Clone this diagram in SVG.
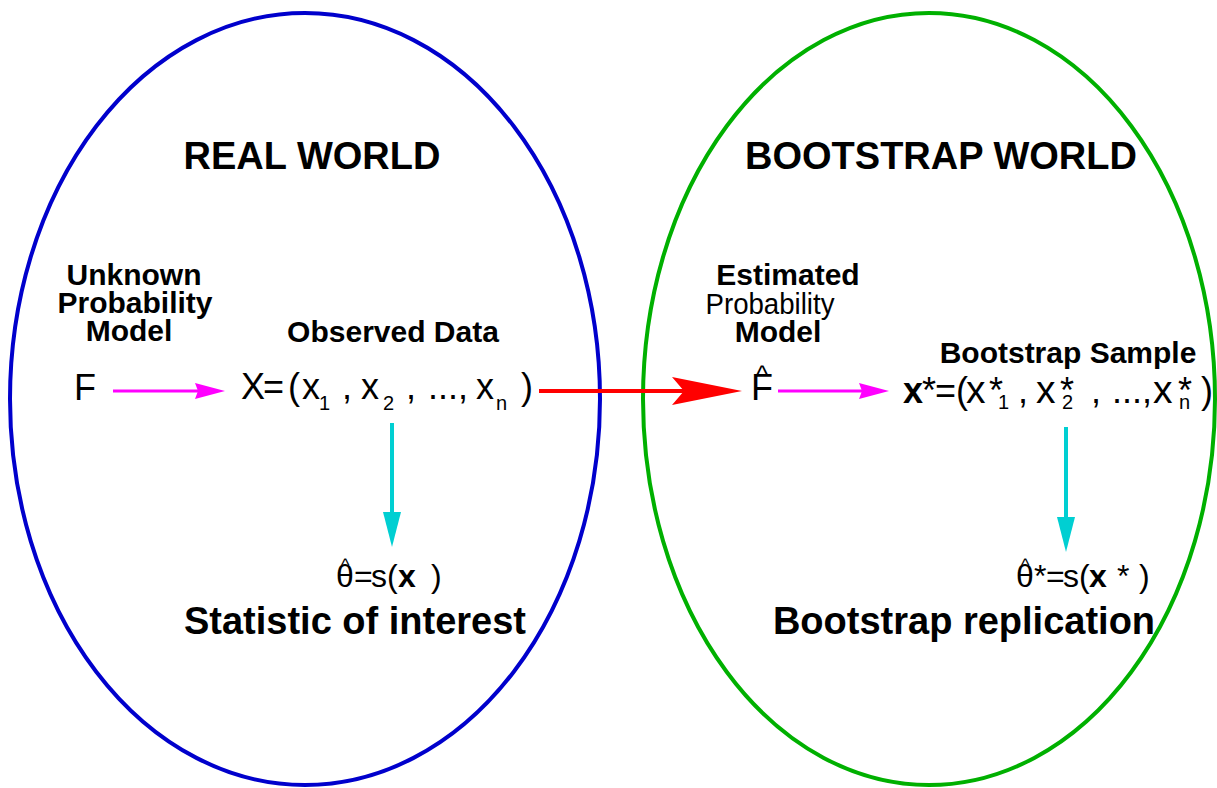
<svg xmlns="http://www.w3.org/2000/svg" width="1217" height="788" viewBox="0 0 1217 788">
  <style>
    text { font-family: "Liberation Sans", Arial, sans-serif; fill: #000; }
    .title { font-size: 38px; font-weight: bold; text-anchor: middle; }
    .lbl { font-size: 30px; font-weight: bold; text-anchor: middle; }
    .lbln { font-size: 30px; font-weight: normal; text-anchor: middle; }
    .big { font-size: 38px; font-weight: bold; text-anchor: middle; }
    .f { font-size: 36px; }
    .xr { font-size: 39px; }
    .sub { font-size: 20px; }
    .th { font-size: 32px; }
    .hat { font-size: 18px; }
    .b { font-weight: bold; }
    .world { fill: none; stroke-width: 4; }
  </style>
  <defs>
    <marker id="headRed" markerUnits="userSpaceOnUse" markerWidth="70" markerHeight="28" refX="28" refY="14" orient="auto">
      <path d="M0,0 L70,14 L0,28 L12,14 Z" fill="#ff0000"/>
    </marker>
    <marker id="headMag" markerUnits="userSpaceOnUse" markerWidth="30" markerHeight="16" refX="15" refY="8" orient="auto">
      <path d="M0,0 L30,8 L0,16 L3,8 Z" fill="#ff00ff"/>
    </marker>
    <marker id="headCyan" markerUnits="userSpaceOnUse" markerWidth="35" markerHeight="18" refX="20" refY="9" orient="auto">
      <path d="M0,0 L35,9 L0,18 Z" fill="#00cfd2"/>
    </marker>
  </defs>

  <!-- the two worlds -->
  <g id="real-world">
    <ellipse class="world" cx="305" cy="399" rx="295" ry="386" stroke="#0000cc"/>
    <text class="title" x="312" y="169">REAL WORLD</text>
  </g>
  <g id="bootstrap-world">
    <ellipse class="world" cx="929" cy="399" rx="286" ry="386" stroke="#00b000"/>
    <text class="title" x="941" y="169">BOOTSTRAP WORLD</text>
  </g>

  <!-- real world nodes -->
  <g id="node-F">
    <text class="lbl" x="134" y="285">Unknown</text>
    <text class="lbl" x="135" y="313">Probability</text>
    <text class="lbl" x="129" y="341">Model</text>
    <text class="f" x="74" y="400">F</text>
  </g>
  <g id="node-X">
    <text class="lbl" x="393" y="342">Observed Data</text>
    <text class="f" x="241" y="399">X</text>
    <text class="f" x="263" y="399">=</text>
    <text class="f" x="288" y="399">(</text>
    <text class="f" x="302" y="399">x</text>
    <text class="sub" x="319" y="410">1</text>
    <text class="f" x="342" y="399">,</text>
    <text class="f" x="361" y="399">x</text>
    <text class="sub" x="383" y="410">2</text>
    <text class="f" x="406" y="399">,</text>
    <text class="f" x="428" y="399">...,</text>
    <text class="f" x="476" y="399">x</text>
    <text class="sub" x="496" y="410">n</text>
    <text class="f" x="521" y="399">)</text>
  </g>
  <g id="node-theta">
    <text class="hat" x="341" y="571">^</text>
    <text class="th" x="336" y="587">θ</text>
    <text class="th" x="354" y="587">=</text>
    <text class="th" x="371" y="587">s</text>
    <text class="th" x="387" y="587">(</text>
    <text class="th b" x="398" y="587">x</text>
    <text class="th" x="431" y="587">)</text>
    <text class="big" x="355" y="634">Statistic of interest</text>
  </g>

  <!-- bootstrap world nodes -->
  <g id="node-Fhat">
    <text class="lbl" x="788" y="285">Estimated</text>
    <text class="lbln" x="770" y="314" textLength="129" lengthAdjust="spacingAndGlyphs">Probability</text>
    <text class="lbl" x="778" y="342">Model</text>
    <text class="hat" style="font-size:26px" x="756" y="384">^</text>
    <text class="f" x="751" y="400">F</text>
  </g>
  <g id="node-xstar">
    <text class="lbl" x="1068" y="363">Bootstrap Sample</text>
    <text class="f b" x="903" y="403">x</text>
    <text class="f" x="922" y="403">*</text>
    <text class="f" x="935" y="403">=</text>
    <text class="f" x="956" y="403">(</text>
    <text class="xr" x="966" y="403">x</text>
    <text class="f" x="989" y="403">*</text>
    <text class="sub" x="998" y="409">1</text>
    <text class="f" x="1018" y="403">,</text>
    <text class="xr" x="1036" y="403">x</text>
    <text class="f" x="1060" y="403">*</text>
    <text class="sub" x="1062" y="409">2</text>
    <text class="f" x="1091" y="403">,</text>
    <text class="f" x="1112" y="403">...</text>
    <text class="f" x="1142" y="403">,</text>
    <text class="xr" x="1153" y="403">x</text>
    <text class="f" x="1178" y="403">*</text>
    <text class="sub" x="1179" y="409">n</text>
    <text class="f" x="1201" y="403">)</text>
  </g>
  <g id="node-thetastar">
    <text class="hat" x="1021" y="571">^</text>
    <text class="th" x="1016" y="587">θ</text>
    <text class="th" x="1034" y="587">*</text>
    <text class="th" x="1046" y="587">=</text>
    <text class="th" x="1063" y="587">s</text>
    <text class="th" x="1079" y="587">(</text>
    <text class="th b" x="1089" y="587">x</text>
    <text class="th" x="1117" y="587">*</text>
    <text class="th" x="1139" y="587">)</text>
    <text class="big" x="964" y="634">Bootstrap replication</text>
  </g>

  <!-- connectors -->
  <g id="connectors" fill="none">
    <line x1="113" y1="391" x2="210" y2="391" stroke="#ff00ff" stroke-width="3" marker-end="url(#headMag)"/>
    <line x1="778" y1="391" x2="874" y2="391" stroke="#ff00ff" stroke-width="3" marker-end="url(#headMag)"/>
    <line x1="539" y1="391" x2="700" y2="391" stroke="#ff0000" stroke-width="4" marker-end="url(#headRed)"/>
    <line x1="392" y1="423" x2="392" y2="532" stroke="#00cfd2" stroke-width="4" marker-end="url(#headCyan)"/>
    <line x1="1066" y1="427" x2="1066" y2="537" stroke="#00cfd2" stroke-width="4" marker-end="url(#headCyan)"/>
  </g>
</svg>
